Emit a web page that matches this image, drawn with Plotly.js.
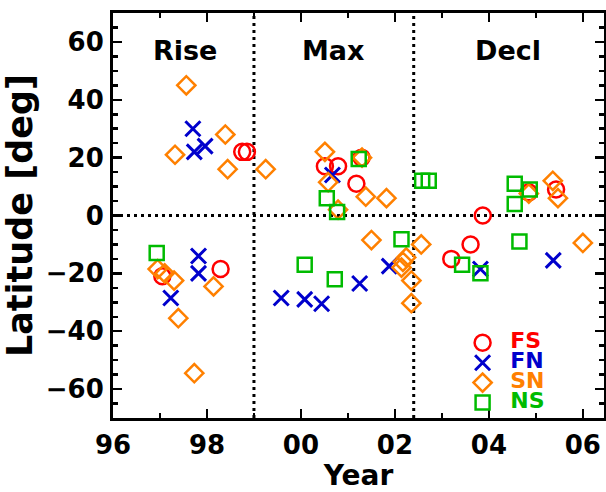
<!DOCTYPE html>
<html>
<head>
<meta charset="utf-8">
<script src="https://cdn.plot.ly/plotly-3.0.1.min.js"></script>
<style>html,body{margin:0;padding:0;background:#fff}#chart{width:606px;height:492px}</style>
</head>
<body>
<div id="chart"></div>
<script>
// ---- data (decimal years, latitude in degrees) ----
const fsYear = [1998.75, 1998.85, 1997.05, 1998.29, 2000.51, 2000.79, 2001.18, 2001.29, 2003.87, 2003.61, 2003.20, 2004.85, 2005.43];
const fsLat  = [22, 22, -21, -18.5, 17, 17, 11, 20, 0, -10, -15, 8, 9];

const fnYear = [1997.70, 1997.73, 1997.96, 1997.23, 1997.82, 1997.82, 1999.58, 2000.08, 2000.44, 2000.67, 2001.25, 2001.88, 2003.82, 2005.37];
const fnLat  = [30, 22, 24, -28.5, -14, -20, -28.5, -29, -30.5, 14, -23.5, -17.5, -18.5, -15.5];

const snYear = [1997.56, 1997.32, 1998.39, 1998.44, 1999.25, 1996.95, 1997.10, 1997.30, 1997.39, 1998.14, 1997.73,
                2000.51, 2000.58, 2000.79, 2001.30, 2001.38, 2001.82, 2001.50, 2002.17, 2002.24, 2002.14, 2002.35, 2002.35, 2002.56,
                2004.85, 2005.36, 2005.47, 2006.00];
const snLat  = [45, 21, 28, 16, 16, -18.5, -20, -22.5, -35.5, -24.5, -54.5,
                22, 11.5, 2, 20, 6.5, 6, -8.5, -16, -14.5, -18, -22.5, -30.3, -10,
                7.6, 12, 6, -9.5];

const nsYear = [1996.93, 2000.55, 2000.77, 2001.23, 2000.08, 2000.72, 2002.14, 2002.58, 2002.72, 2003.43, 2003.82, 2004.55, 2004.55, 2004.87, 2004.65];
const nsLat  = [-13, 6, 1.2, 19.5, -17, -22, -8.2, 12, 12, -17, -20, 11, 4, 9, -9];

const seriesNames  = ['FS', 'FN', 'SN', 'NS'];
const seriesColors = ['#ff0000', '#0000cc', '#ff8000', '#00bb00'];

const xTickVals  = [1996, 1998, 2000, 2002, 2004, 2006];
const xTickText  = ['96', '98', '00', '02', '04', '06'];
const yTickVals  = [-60, -40, -20, 0, 20, 40, 60];

const phaseBounds = [1999.0, 2002.4];
const phaseLabels = ['Rise', 'Max', 'Decl'];
const phaseLabelYear = [1997.54, 2000.70, 2004.40];
const phaseLabelLat = 57;

// ---- traces ----
const font = 'DejaVu Sans, Verdana, sans-serif';
function legendName(i){
  return '<span style="color:' + seriesColors[i] + ';font-size:22px"> ' + seriesNames[i] + '</span>';
}
const traces = [
  {x: fsYear, y: fsLat, mode: 'markers', type: 'scatter', name: legendName(0),
   marker: {symbol: 'circle-open', size: 16, color: seriesColors[0], line: {width: 2.5, color: seriesColors[0]}}},
  {x: fnYear, y: fnLat, mode: 'markers', type: 'scatter', name: legendName(1),
   marker: {symbol: 'x-thin-open', size: 15, color: seriesColors[1], line: {width: 3, color: seriesColors[1]}}},
  {x: snYear, y: snLat, mode: 'markers', type: 'scatter', name: legendName(2),
   marker: {symbol: 'diamond-open', size: 14, color: seriesColors[2], line: {width: 2.5, color: seriesColors[2]}}},
  {x: nsYear, y: nsLat, mode: 'markers', type: 'scatter', name: legendName(3),
   marker: {symbol: 'square-open', size: 14, color: seriesColors[3], line: {width: 2.5, color: seriesColors[3]}}}
];

const dotted = {color: '#000', width: 3, dash: '3px,4px'};
const shapes = phaseBounds.map(b => ({type: 'line', xref: 'x', yref: 'paper', x0: b, x1: b, y0: 0, y1: 1, line: dotted, layer: 'below'}));
shapes.push({type: 'line', xref: 'paper', yref: 'y', x0: 0, x1: 1, y0: 0, y1: 0, line: dotted, layer: 'below'});

const annotations = phaseLabels.map((t, i) => ({
  text: t, x: phaseLabelYear[i], y: phaseLabelLat, xref: 'x', yref: 'y', showarrow: false,
  font: {family: font, size: 27, color: '#000', weight: 'bold'}
}));

const layout = {
  width: 606, height: 492,
  margin: {l: 113, r: 2, t: 13, b: 74},
  paper_bgcolor: '#fff', plot_bgcolor: '#fff',
  font: {family: font, size: 26, color: '#000', weight: 'bold'},
  showlegend: true,
  legend: {x: 0.712, xanchor: 'left', y: 0.2226, yanchor: 'top', bgcolor: 'rgba(0,0,0,0)', borderwidth: 0,
           font: {family: font, size: 13, weight: 'bold'}, tracegroupgap: 0},
  xaxis: {range: [1996, 2006.45], tickvals: xTickVals, ticktext: xTickText,
          ticks: 'inside', ticklen: 9, tickwidth: 2.5, tickcolor: '#000',
          minor: {dtick: 1, tick0: 1996, ticks: 'inside', ticklen: 5, tickwidth: 2.5, tickcolor: '#000'},
          showline: true, linewidth: 3, linecolor: '#000', mirror: 'ticks',
          showgrid: false, zeroline: false, ticklabelstandoff: 2,
          tickfont: {family: font, size: 26, weight: 'bold'},
          title: {text: 'Year', font: {family: font, size: 28, weight: 'bold'}, standoff: 2}},
  yaxis: {range: [-70, 70], tickvals: yTickVals,
          ticks: 'inside', ticklen: 9, tickwidth: 2.5, tickcolor: '#000',
          minor: {dtick: 5, tick0: 0, ticks: 'inside', ticklen: 5, tickwidth: 2.5, tickcolor: '#000'},
          showline: true, linewidth: 3, linecolor: '#000', mirror: 'ticks',
          showgrid: false, zeroline: false, ticklabelstandoff: 1,
          tickfont: {family: font, size: 26, weight: 'bold'},
          title: {text: 'Latitude [deg]', font: {family: font, size: 35, weight: 'bold'}, standoff: 8}},
  shapes: shapes,
  annotations: annotations
};

Plotly.newPlot('chart', traces, layout, {staticPlot: true, displayModeBar: false});
</script>
</body>
</html>
